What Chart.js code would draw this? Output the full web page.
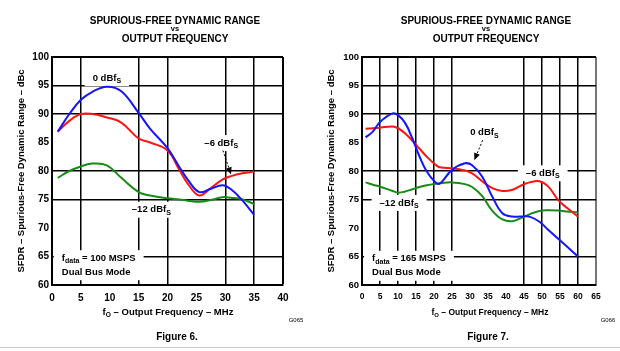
<!DOCTYPE html>
<html>
<head>
<meta charset="utf-8">
<script src="https://cdn.jsdelivr.net/npm/chart.js@4/dist/chart.umd.min.js"></script>
<style>
  body { margin: 0; background: #fff; font-family: Arial, "Liberation Sans", sans-serif; }
  #wrap { position: relative; width: 620px; height: 351px; overflow: hidden; }
  canvas { position: absolute; top: 0; }
  .t { position: absolute; transform: translateX(-50%); white-space: nowrap; font-weight: bold; color: #000; text-align: center; }
  .t sub { font-size: 70%; vertical-align: -2px; line-height: 0; }
  #rule { position: absolute; left: 0; top: 347px; width: 620px; height: 1px; background: #c8c8c8; }
</style>
</head>
<body>
<div id="wrap">
  <canvas id="fig6" width="310" height="351" style="left:0"></canvas>
  <canvas id="fig7" width="310" height="351" style="left:310px"></canvas>

  <div class="t" style="left:175px;top:15px;font-size:10px;line-height:12px">SPURIOUS-FREE DYNAMIC RANGE</div>
  <div class="t" style="left:175px;top:24px;font-size:7.5px;line-height:10px">vs</div>
  <div class="t" style="left:175px;top:33px;font-size:10px;line-height:12px">OUTPUT FREQUENCY</div>
  <div class="t" style="left:486px;top:15px;font-size:10px;line-height:12px">SPURIOUS-FREE DYNAMIC RANGE</div>
  <div class="t" style="left:486px;top:24px;font-size:7.5px;line-height:10px">vs</div>
  <div class="t" style="left:486px;top:33px;font-size:10px;line-height:12px">OUTPUT FREQUENCY</div>

  <div class="t" style="left:168px;top:306px;font-size:9.5px;line-height:12px">f<sub>O</sub> – Output Frequency – MHz</div>
  <div class="t" style="left:490px;top:306px;font-size:8.5px;line-height:12px">f<sub>O</sub> – Output Frequency – MHz</div>

  <div class="t" style="left:296px;top:316px;font-size:6px;line-height:8px;font-weight:normal">G065</div>
  <div class="t" style="left:608px;top:316px;font-size:6px;line-height:8px;font-weight:normal">G066</div>

  <div class="t" style="left:177px;top:331px;font-size:10px;line-height:12px">Figure 6.</div>
  <div class="t" style="left:488px;top:331px;font-size:10px;line-height:12px">Figure 7.</div>
  <div id="rule"></div>
</div>

<script>
// Values (SFDR in dBc vs output frequency in MHz).
const FREQ_6 = [1, 3, 5, 7, 9.5, 12, 15, 17, 20, 22, 23.5, 25.5, 27.5, 29.5, 31, 33, 35];
const SFDR_6_0DB = [86.9, 90.0, 92.5, 93.9, 94.8, 94.0, 90.2, 87.4, 84.0, 80.8, 78.5, 76.3, 76.9, 77.5, 76.8, 74.8, 72.3];
const SFDR_6_6DB = [86.9, 88.8, 90.0, 90.0, 89.4, 88.5, 85.7, 85.0, 83.6, 80.3, 77.8, 75.7, 77.0, 78.5, 79.1, 79.6, 79.9];
const SFDR_6_12DB = [78.8, 80.0, 80.8, 81.3, 81.0, 78.8, 76.3, 75.7, 75.2, 75.0, 74.8, 74.6, 74.9, 75.4, 75.3, 75.0, 74.2];

const FREQ_7 = [1, 3, 5, 8.5, 10, 12, 14, 16, 18, 20.8, 22, 25, 28.6, 30.6, 33.4, 36.2, 39, 41.8, 44, 46.5, 49.3, 51.7, 54.5, 57, 60];
const SFDR_7_0DB = [85.9, 86.9, 88.6, 90.1, 89.8, 88.4, 85.7, 82.5, 79.9, 77.8, 78.0, 80.2, 81.35, 81.0, 79.0, 75.5, 72.6, 72.0, 72.0, 72.0, 71.1, 69.7, 68.1, 66.7, 65.0];
const SFDR_7_6DB = [87.4, 87.5, 87.6, 87.8, 87.5, 86.6, 85.3, 83.9, 82.5, 80.9, 80.6, 80.5, 80.1, 79.6, 78.2, 77.0, 76.5, 76.7, 77.4, 78.0, 78.2, 77.3, 74.9, 73.5, 72.0];
const SFDR_7_12DB = [78.0, 77.6, 77.25, 76.5, 76.2, 76.4, 76.8, 77.2, 77.5, 77.8, 77.9, 78.0, 77.7, 77.2, 75.6, 73.0, 71.5, 71.2, 71.7, 72.4, 73.0, 73.1, 73.05, 72.9, 72.7];

// Grid lines that the originals actually draw (some are left out on purpose).
const Y_GRID = [65, 75, 80, 90, 95];
const X_GRID_6 = [5, 15, 20, 30, 35];
const X_GRID_7 = [5, 10, 15, 20, 25, 45, 50, 55, 60];

const Y_TITLE = "SFDR – Spurious-Free Dynamic Range – dBc";

// In-plot labels: [text, isSubscript] parts, anchored in data coordinates.
const NOTES_6 = [
  { at: [9.5, 96.3], lines: [[["0 dBf"], ["S", 1]]] },
  { at: [29.3, 84.9], lines: [[["–6 dBf"], ["S", 1]]] },
  { at: [17.2, 73.2], lines: [[["–12 dBf"], ["S", 1]]] },
  { at: [1.7, 64.7], left: true, lines: [[["f"], ["data", 1], [" = 100 MSPS"]], [["Dual Bus Mode"]]] },
];
const ARROWS_6 = [[[29.6, 83.6], [31.0, 79.4]]];

const NOTES_7 = [
  { at: [34.0, 86.7], lines: [[["0 dBf"], ["S", 1]]] },
  { at: [50.2, 79.6], lines: [[["–6 dBf"], ["S", 1]]] },
  { at: [10.3, 74.4], lines: [[["–12 dBf"], ["S", 1]]] },
  { at: [2.8, 64.6], left: true, lines: [[["f"], ["data", 1], [" = 165 MSPS"]], [["Dual Bus Mode"]]] },
];
const ARROWS_7 = [[[33.5, 85.4], [31.2, 81.9]]];

const FAMILY = "Arial, 'Liberation Sans', sans-serif";
const COLORS = { blue: "#1414ff", red: "#ff1414", green: "#168c16" };
const NOTE_FONT = "bold 9.5px " + FAMILY;
const SUB_FONT = "bold 7px " + FAMILY;

function partsWidth(ctx, parts) {
  return parts.reduce((w, [t, sub]) => {
    ctx.font = sub ? SUB_FONT : NOTE_FONT;
    return w + ctx.measureText(t).width;
  }, 0);
}

function drawParts(ctx, parts, x, y) {
  for (const [t, sub] of parts) {
    ctx.font = sub ? SUB_FONT : NOTE_FONT;
    ctx.fillText(t, x, sub ? y + 3 : y);
    x += ctx.measureText(t).width;
  }
}

// Labels sit on white boxes that break the grid (like the datasheet), then arrows on top.
const notesPlugin = {
  id: "notes",
  beforeDatasetsDraw(chart, args, opts) {
    const { ctx, scales: { x, y } } = chart;
    const gap = 14;
    ctx.save();
    ctx.textBaseline = "middle";
    ctx.textAlign = "left";
    for (const n of opts.items) {
      const px = x.getPixelForValue(n.at[0]);
      const py = y.getPixelForValue(n.at[1]);
      const w = Math.max(...n.lines.map(l => partsWidth(ctx, l)));
      const left = n.left ? px : px - w / 2;
      const h = (n.lines.length - 1) * gap;
      ctx.fillStyle = "#fff";
      ctx.fillRect(left - 8, py - 8, w + 16, h + 16);
      ctx.fillStyle = "#000";
      n.lines.forEach((l, i) => drawParts(ctx, l, left, py + i * gap));
    }
    ctx.restore();
  },
  afterDatasetsDraw(chart, args, opts) {
    const { ctx, scales: { x, y } } = chart;
    ctx.save();
    ctx.strokeStyle = "#000";
    ctx.fillStyle = "#000";
    ctx.lineWidth = 1;
    for (const [a, b] of opts.arrows) {
      const x0 = x.getPixelForValue(a[0]), y0 = y.getPixelForValue(a[1]);
      const x1 = x.getPixelForValue(b[0]), y1 = y.getPixelForValue(b[1]);
      const ang = Math.atan2(y1 - y0, x1 - x0);
      const head = 7;
      ctx.setLineDash([2, 2]);
      ctx.beginPath();
      ctx.moveTo(x0, y0);
      ctx.lineTo(x1 - head * Math.cos(ang), y1 - head * Math.sin(ang));
      ctx.stroke();
      ctx.setLineDash([]);
      ctx.beginPath();
      ctx.moveTo(x1, y1);
      ctx.lineTo(x1 - head * Math.cos(ang) + 3 * Math.sin(ang), y1 - head * Math.sin(ang) - 3 * Math.cos(ang));
      ctx.lineTo(x1 - head * Math.cos(ang) - 3 * Math.sin(ang), y1 - head * Math.sin(ang) + 3 * Math.cos(ang));
      ctx.closePath();
      ctx.fill();
    }
    ctx.restore();
  },
};

function series(freq, values, color) {
  return {
    data: freq.map((f, i) => ({ x: f, y: values[i] })),
    borderColor: color, borderWidth: 2, pointRadius: 0, tension: 0.4, fill: false,
  };
}

// Only listed values get a line; the max value is the top/right frame edge.
function gridStyle(lines, min, max, edge) {
  return {
    drawTicks: false,
    color: c => c.tick.value === max ? edge : (lines.includes(c.tick.value) ? "#000" : "rgba(0,0,0,0)"),
    lineWidth: c => c.tick.value === max ? 2 : 1.5,
  };
}

function sfdrChart(id, { freq, s0, s6, s12, xMax, xGrid, edge, padRight, xFont, yFont, notes, arrows }) {
  return new Chart(document.getElementById(id), {
    type: "line",
    data: {
      datasets: [series(freq, s0, COLORS.blue), series(freq, s6, COLORS.red), series(freq, s12, COLORS.green)],
    },
    options: {
      responsive: false, animation: false, events: [],
      layout: { padding: { left: 12, right: padRight, top: 57, bottom: 46 } },
      plugins: { legend: { display: false }, tooltip: { enabled: false }, notes: { items: notes, arrows } },
      scales: {
        x: {
          type: "linear", min: 0, max: xMax,
          ticks: { stepSize: 5, padding: 7, color: "#000", maxRotation: 0, autoSkip: false, font: { family: FAMILY, size: xFont, weight: "bold" } },
          grid: gridStyle(xGrid, 0, xMax, edge),
          border: { color: "#000", width: 2 },
          afterFit: s => { s.height = 20; },
        },
        y: {
          min: 60, max: 100,
          ticks: { stepSize: 5, padding: 3, color: "#000", font: { family: FAMILY, size: yFont, weight: "bold" } },
          grid: gridStyle(Y_GRID, 60, 100, "#000"),
          border: { color: "#000", width: 2 },
          title: { display: true, text: Y_TITLE, color: "#000", padding: { top: 4, bottom: 0 }, font: { family: FAMILY, size: 9.5, weight: "bold" } },
          afterFit: s => { s.width = 40; },
        },
      },
    },
    plugins: [notesPlugin],
  });
}

sfdrChart("fig6", {
  freq: FREQ_6, s0: SFDR_6_0DB, s6: SFDR_6_6DB, s12: SFDR_6_12DB,
  xMax: 40, xGrid: X_GRID_6, edge: "#000", padRight: 27, xFont: 10, yFont: 10,
  notes: NOTES_6, arrows: ARROWS_6,
});
sfdrChart("fig7", {
  freq: FREQ_7, s0: SFDR_7_0DB, s6: SFDR_7_6DB, s12: SFDR_7_12DB,
  xMax: 65, xGrid: X_GRID_7, edge: "#777", padRight: 24, xFont: 8.5, yFont: 9.5,
  notes: NOTES_7, arrows: ARROWS_7,
});
</script>
</body>
</html>
